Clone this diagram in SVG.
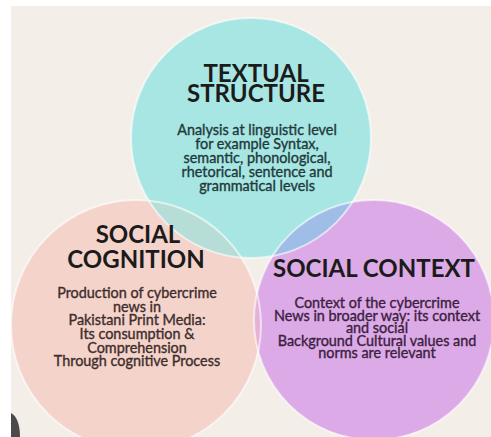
<svg xmlns="http://www.w3.org/2000/svg" width="491" height="437" viewBox="0 0 491 437">
<style>
.title{font-family:Lato,"Open Sans","DejaVu Sans",sans-serif;font-weight:700;font-size:24px;text-anchor:middle;fill:#1b1b1b}
.body{font-family:Lato,"Open Sans","DejaVu Sans",sans-serif;font-weight:400;font-size:14.4px;text-anchor:middle;stroke-width:0.35px}
.edge{fill:none;stroke:#ffffff;stroke-opacity:0.6;stroke-width:2}
</style>
<defs>
<clipPath id="cTeal"><circle cx="251" cy="138" r="120"/></clipPath>
<clipPath id="cPink"><circle cx="136" cy="325" r="125"/></clipPath>
<clipPath id="cPurple"><circle cx="374" cy="320" r="120"/></clipPath>
</defs>
<rect x="0" y="0" width="491" height="437" fill="#ffffff"/>
<rect x="11" y="6" width="480" height="431" fill="#f3eee7"/>
<path d="M11,413 C17,416 20,425 20,437 L11,437 Z" fill="#4a4a4a"/>
<g id="social-cognition">
<circle cx="136" cy="325" r="125" fill="#f4d3cb"/>
</g>
<g id="social-context">
<circle cx="374" cy="320" r="120" fill="#dcaae6"/>
</g>
<g id="textual-structure">
<circle cx="251" cy="138" r="120" fill="#a8e6e4"/>
</g>
<g id="overlaps">
<g clip-path="url(#cPink)"><circle cx="374" cy="320" r="120" fill="#e4b1d7"/></g>
<g clip-path="url(#cPink)"><circle cx="251" cy="138" r="120" fill="#b6ddd6"/></g>
<g clip-path="url(#cPurple)"><circle cx="251" cy="138" r="120" fill="#9fbde6"/></g>
</g>
<g id="edges">
<circle class="edge" cx="136" cy="325" r="125"/>
<circle class="edge" cx="374" cy="320" r="120"/>
<circle class="edge" cx="251" cy="138" r="120"/>
</g>
<g id="labels-textual">
<text class="title" x="256" y="82">TEXTUAL</text>
<text class="title" x="256" y="102">STRUCTURE</text>
<text class="body" fill="#1f3a3a" stroke="#1f3a3a" x="257" y="135">Analysis at linguistic level</text>
<text class="body" fill="#1f3a3a" stroke="#1f3a3a" x="257" y="149">for example Syntax,</text>
<text class="body" fill="#1f3a3a" stroke="#1f3a3a" x="257" y="163">semantic, phonological,</text>
<text class="body" fill="#1f3a3a" stroke="#1f3a3a" x="257" y="177">rhetorical, sentence and</text>
<text class="body" fill="#1f3a3a" stroke="#1f3a3a" x="257" y="191">grammatical levels</text>
</g>
<g id="labels-cognition">
<text class="title" x="138" y="243">SOCIAL</text>
<text class="title" x="136" y="268">COGNITION</text>
<text class="body" fill="#3d2e2b" stroke="#3d2e2b" x="137" y="298">Production of cybercrime</text>
<text class="body" fill="#3d2e2b" stroke="#3d2e2b" x="137" y="312">news in</text>
<text class="body" fill="#3d2e2b" stroke="#3d2e2b" x="137" y="325">Pakistani  Print Media:</text>
<text class="body" fill="#3d2e2b" stroke="#3d2e2b" x="137" y="339">Its consumption &amp;</text>
<text class="body" fill="#3d2e2b" stroke="#3d2e2b" x="137" y="353">Comprehension</text>
<text class="body" fill="#3d2e2b" stroke="#3d2e2b" x="137" y="366">Through cognitive Process</text>
</g>
<g id="labels-context">
<text class="title" x="374" y="277">SOCIAL CONTEXT</text>
<text class="body" fill="#3b2140" stroke="#3b2140" x="377" y="308">Context of the cybercrime</text>
<text class="body" fill="#3b2140" stroke="#3b2140" x="377" y="321">News in broader way: its context</text>
<text class="body" fill="#3b2140" stroke="#3b2140" x="377" y="333">and social</text>
<text class="body" fill="#3b2140" stroke="#3b2140" x="377" y="346">Background Cultural values and</text>
<text class="body" fill="#3b2140" stroke="#3b2140" x="377" y="358">norms are relevant</text>
</g>
</svg>
